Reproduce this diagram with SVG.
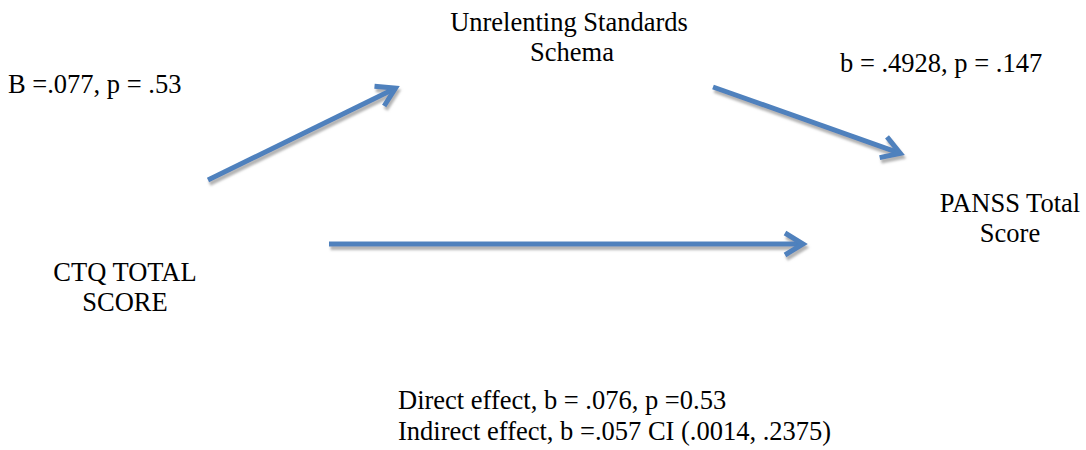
<svg xmlns="http://www.w3.org/2000/svg" width="1086" height="450" viewBox="0 0 1086 450">
<style>
  text { font-family: "Liberation Serif", "Times New Roman", serif; font-size: 26.5px; fill: #000; }
  .c { text-anchor: middle; }
  .arrow { fill: none; stroke: #4F81BD; stroke-width: 5; }
</style>
<defs>
  <filter id="shadow" x="-10%" y="-50%" width="120%" height="200%">
    <feDropShadow dx="1.5" dy="3.5" stdDeviation="0.9" flood-color="#9a9a9a" flood-opacity="0.75"/>
  </filter>
  <marker id="head" markerUnits="userSpaceOnUse" markerWidth="40" markerHeight="40" viewBox="-30 -20 40 40" refX="0" refY="0" orient="auto" overflow="visible">
    <path d="M -18 -11 L 0 0 L -18 11" fill="none" stroke="#4F81BD" stroke-width="5" stroke-linejoin="miter"/>
  </marker>
</defs>
<rect width="1086" height="450" fill="#fff"/>
<g id="connectors" filter="url(#shadow)">
  <path id="a-ctq-us" class="arrow" d="M 208 180 L 395.5 88.2" marker-end="url(#head)"/>
  <path id="a-us-panss" class="arrow" d="M 713 87 L 900.3 153.3" marker-end="url(#head)"/>
  <path id="a-ctq-panss" class="arrow" d="M 329 244 L 803 244" marker-end="url(#head)"/>
</g>
<g id="node-us">
  <text class="c" x="569" y="31">Unrelenting Standards</text>
  <text class="c" x="572" y="61">Schema</text>
</g>
<g id="node-ctq">
  <text class="c" x="125" y="281">CTQ TOTAL</text>
  <text class="c" x="125" y="311">SCORE</text>
</g>
<g id="node-panss">
  <text class="c" x="1010" y="212">PANSS Total</text>
  <text class="c" x="1010" y="242">Score</text>
</g>
<g id="labels">
  <text x="8" y="93">B =.077, p = .53</text>
  <text x="840" y="72">b = .4928, p = .147</text>
  <text x="398" y="409">Direct effect, b = .076, p =0.53</text>
  <text x="398" y="440">Indirect effect, b =.057 CI (.0014, .2375)</text>
</g>
</svg>
